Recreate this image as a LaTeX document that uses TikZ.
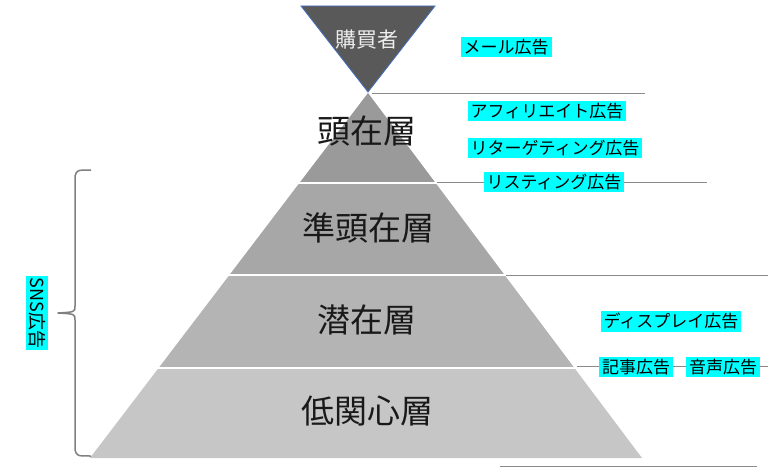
\documentclass[tikz,border=0pt]{standalone}
\usepackage{fontspec}
\newfontfamily\jp{Noto Sans CJK JP}
\definecolor{layA}{HTML}{9A9A9A}
\definecolor{layB}{HTML}{A7A7A7}
\definecolor{layC}{HTML}{B4B4B4}
\definecolor{layD}{HTML}{C6C6C6}
\definecolor{topfill}{HTML}{595959}
\definecolor{topedge}{HTML}{4472C4}
\definecolor{sep}{HTML}{8A8A8A}
\definecolor{tag}{HTML}{00FFFF}
\begin{document}
\begin{tikzpicture}[x=1pt,y=-1pt,
  tagbox/.style={fill=tag,inner xsep=3pt,inner ysep=2.5pt,font=\jp\fontsize{17}{18}\selectfont,text=black},
  layertext/.style={font=\jp\fontsize{33}{35}\selectfont,text=black!90},
  sepline/.style={draw=sep,line width=1pt},
  band/.style={draw=white,line width=1.5pt}]
\useasboundingbox (0,0) rectangle (768,468);
% separator lines
\coordinate (l1a) at (372,94);  \coordinate (l1b) at (645,94);
\coordinate (l2a) at (436,182); \coordinate (l2b) at (707,182);
\coordinate (l3a) at (505,275); \coordinate (l3b) at (768,275);
\coordinate (l4a) at (577,366); \coordinate (l4b) at (768,366);
\coordinate (l5a) at (500,466); \coordinate (l5b) at (757,466);
\draw[sepline] (l1a) -- (l1b);
\draw[sepline] (l2a) -- (l2b);
\draw[sepline] (l3a) -- (l3b);
\draw[sepline] (l4a) -- (l4b);
\draw[sepline] (l5a) -- (l5b);
% pyramid bands
\fill[layA] (368,93) -- (435.6,183) -- (299.4,183) -- cycle;
\fill[layB] (299.4,183) -- (435.6,183) -- (504.6,275) -- (229.4,275) -- cycle;
\fill[layC] (229.4,275) -- (504.6,275) -- (574.4,368) -- (158.6,368) -- cycle;
\fill[layD] (158.6,368) -- (574.4,368) -- (642,458) -- (90,458) -- cycle;
\draw[white,line width=2pt] (298,183) -- (437,183);
\draw[white,line width=2pt] (228,275) -- (506,275);
\draw[white,line width=2pt] (157,368) -- (576,368);
% inverted triangle
\draw[fill=topfill,draw=topedge,line width=0.8pt] (301,6) -- (435,6) -- (368,92) -- cycle;
\node[font=\jp\fontsize{21}{22}\selectfont,text=white!93!black] (buyer) at (367,40) {購買者};
% layer texts
\node[layertext] (lay1) at (367,131) {頭在層};
\node[layertext] (lay2) at (368,228) {準頭在層};
\node[layertext] (lay3) at (367,320) {潜在層};
\node[layertext] (lay4) at (367,411) {低関心層};
% tags
\node[tagbox] (mail) at (506,47) {メール広告};
\node[tagbox] (aff) at (547,111) {アフィリエイト広告};
\node[tagbox] (ret) at (555,148) {リターゲティング広告};
\node[tagbox] (list) at (554,182) {リスティング広告};
\node[tagbox] (disp) at (671,321) {ディスプレイ広告};
\node[tagbox] (art) at (636,367) {記事広告};
\node[tagbox] (voice) at (723,367) {音声広告};
% brace
\draw[draw=black!50,line width=1.5pt,line join=round]
  (91,170) .. controls (77,170) .. (75,176) -- (75,306)
  .. controls (75,312) .. (58,313)
  .. controls (75,314) .. (75,320) -- (75,450)
  .. controls (77,456) .. (91,456);
\node[tagbox,rotate=-90,inner xsep=2pt,font=\jp\fontsize{18}{19}\selectfont] (sns) at (37,313) {SNS広告};
\end{tikzpicture}
\end{document}
